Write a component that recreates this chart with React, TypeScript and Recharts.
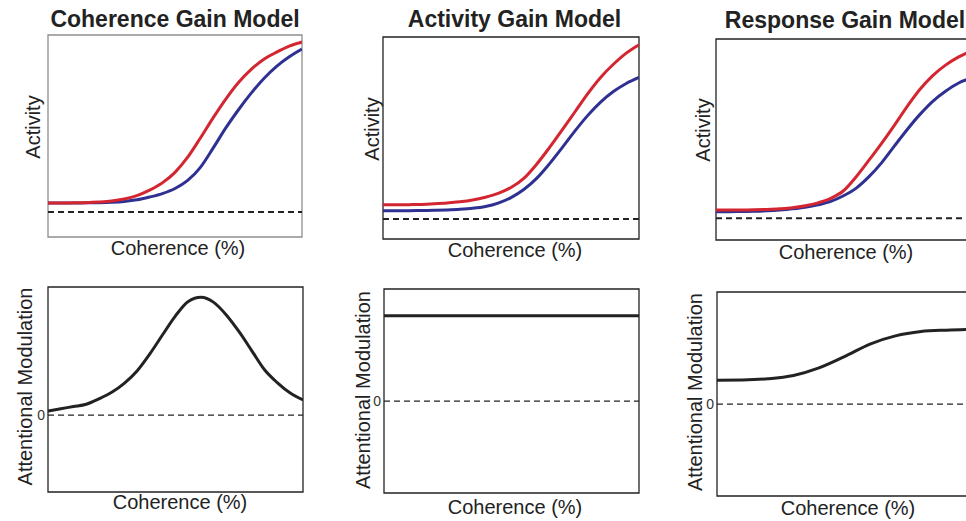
import React from 'react';
import { LineChart, Line, XAxis, YAxis, ReferenceLine, ReferenceArea } from 'recharts';

// x positions are % of the coherence range shown in each panel
const xGrid = [0, 5, 10, 15, 20, 25, 30, 35, 40, 45, 50, 55, 60, 65, 70, 75, 80, 85, 90, 95, 100];

// top row: activity, attended (red) vs unattended (blue)
const coherenceAttended = [0.168, 0.168, 0.169, 0.17, 0.173, 0.178, 0.188, 0.205, 0.232, 0.268, 0.32, 0.395, 0.49, 0.59, 0.683, 0.765, 0.83, 0.88, 0.915, 0.945, 0.965];
const coherenceUnattended = [0.168, 0.168, 0.168, 0.169, 0.17, 0.172, 0.176, 0.184, 0.198, 0.215, 0.24, 0.28, 0.345, 0.44, 0.54, 0.63, 0.712, 0.785, 0.845, 0.892, 0.93];
const activityAttended = [0.169, 0.169, 0.17, 0.171, 0.174, 0.178, 0.184, 0.193, 0.207, 0.226, 0.255, 0.3, 0.37, 0.452, 0.54, 0.63, 0.72, 0.8, 0.865, 0.92, 0.962];
const activityUnattended = [0.14, 0.14, 0.14, 0.141, 0.142, 0.144, 0.147, 0.152, 0.161, 0.178, 0.205, 0.245, 0.3, 0.372, 0.452, 0.535, 0.612, 0.678, 0.73, 0.77, 0.8];
const responseAttended = [0.149, 0.149, 0.149, 0.15, 0.152, 0.155, 0.16, 0.17, 0.185, 0.207, 0.245, 0.315, 0.397, 0.482, 0.572, 0.665, 0.75, 0.818, 0.87, 0.91, 0.94];
const responseUnattended = [0.141, 0.141, 0.142, 0.143, 0.145, 0.149, 0.155, 0.163, 0.175, 0.192, 0.22, 0.258, 0.315, 0.385, 0.468, 0.55, 0.625, 0.69, 0.74, 0.78, 0.805];
const topBaselines = [0.124, 0.099, 0.108];

// bottom row: attentional modulation
const coherenceMod = [0.032, 0.05, 0.067, 0.085, 0.127, 0.178, 0.25, 0.347, 0.48, 0.629, 0.775, 0.887, 0.92, 0.88, 0.78, 0.649, 0.5, 0.352, 0.252, 0.172, 0.118];
const xActivityMod = [0, 100];
const activityMod = [0.838, 0.838];
const xResponseMod = [0, 10, 20, 30, 40, 50, 60, 70, 80, 90, 100];
const responseMod = [0.236, 0.238, 0.25, 0.282, 0.356, 0.467, 0.59, 0.67, 0.712, 0.726, 0.733];

const titles = ['Coherence Gain Model', 'Activity Gain Model', 'Response Gain Model'];
const xLabel = 'Coherence (%)';
const topYLabel = 'Activity';
const bottomYLabel = 'Attentional Modulation';
const zeroTick = [0];

const RED = '#d42630';
const BLUE = '#2e3192';
const INK = '#222';
const FONT = '"Liberation Sans", Arial, Helvetica, sans-serif';

type Frame = { x: number; y: number; w: number; h: number };
type Series = { key: string; color: string };

const toRows = (xs: number[], cols: Record<string, number[]>) =>
  xs.map((x, i) => {
    const row: Record<string, number> = { x };
    Object.keys(cols).forEach((k) => (row[k] = cols[k][i]));
    return row;
  });

function Panel({
  frame,
  data,
  series,
  domain,
  refY,
  refWidth,
  frameColor,
  ticks,
}: {
  frame: Frame;
  data: Record<string, number>[];
  series: Series[];
  domain: [number, number];
  refY: number;
  refWidth: number;
  frameColor: string;
  ticks?: number[];
}) {
  return (
    <div style={{ position: 'absolute', left: frame.x - 20, top: frame.y - 1 }}>
      <LineChart width={frame.w + 21} height={frame.h + 2} data={data} margin={{ top: 1, right: 1, bottom: 1, left: 0 }}>
        <XAxis type="number" dataKey="x" domain={[0, 100]} hide allowDataOverflow />
        <YAxis
          type="number"
          domain={domain}
          width={20}
          axisLine={false}
          tickLine={false}
          tickSize={0}
          tickMargin={3}
          ticks={ticks ?? []}
          tick={ticks ? { fontSize: 14, fill: '#333', fontFamily: FONT } : false}
          allowDataOverflow
        />
        <ReferenceArea
          x1={0}
          x2={100}
          y1={domain[0]}
          y2={domain[1]}
          fill="none"
          fillOpacity={0}
          stroke={frameColor}
          strokeWidth={1.3}
          strokeOpacity={1}
          ifOverflow="visible"
        />
        <ReferenceLine y={refY} stroke={INK} strokeWidth={refWidth} strokeDasharray="6 4" />
        {series.map((s) => (
          <Line
            key={s.key}
            type="monotone"
            dataKey={s.key}
            stroke={s.color}
            strokeWidth={3}
            dot={false}
            activeDot={false}
            isAnimationActive={false}
          />
        ))}
      </LineChart>
    </div>
  );
}

const topFrames: Frame[] = [
  { x: 48, y: 35, w: 254, h: 202 },
  { x: 383, y: 37, w: 256, h: 202 },
  { x: 716, y: 39, w: 255, h: 201 },
];
const bottomFrames: Frame[] = [
  { x: 48, y: 287, w: 255, h: 205 },
  { x: 384, y: 289, w: 255, h: 204 },
  { x: 717, y: 292, w: 255, h: 204 },
];

const pairSeries: Series[] = [
  { key: 'unattended', color: BLUE },
  { key: 'attended', color: RED },
];
const modSeries: Series[] = [{ key: 'mod', color: INK }];

export default function App() {
  const topData = [
    toRows(xGrid, { attended: coherenceAttended, unattended: coherenceUnattended }),
    toRows(xGrid, { attended: activityAttended, unattended: activityUnattended }),
    toRows(xGrid, { attended: responseAttended, unattended: responseUnattended }),
  ];
  const bottomData = [
    toRows(xGrid, { mod: coherenceMod }),
    toRows(xActivityMod, { mod: activityMod }),
    toRows(xResponseMod, { mod: responseMod }),
  ];
  const bottomDomains: [number, number][] = [
    [-0.6, 1.0],
    [-0.9, 1.1],
    [-0.9, 1.1],
  ];

  const titlePos = [
    [175, 27],
    [514.5, 26.5],
    [845, 28],
  ];
  const xLabelPos = [
    [178, 254.5],
    [515, 257],
    [846, 258.5],
    [180, 508.5],
    [515, 513.5],
    [848, 515],
  ];
  const yLabelPos = [
    [39.5, 127],
    [378.5, 129],
    [710, 130],
    [31.5, 386.5],
    [370, 390],
    [701.5, 392],
  ];

  return (
    <div
      style={{
        position: 'absolute',
        left: 0,
        top: 0,
        width: 966,
        height: 521,
        overflow: 'hidden',
        background: '#fff',
        fontFamily: FONT,
      }}
    >
      {topFrames.map((f, i) => (
        <Panel
          key={`t${i}`}
          frame={f}
          data={topData[i]}
          series={pairSeries}
          domain={[0, 1]}
          refY={topBaselines[i]}
          refWidth={2}
          frameColor={i === 0 ? '#8e8e8e' : INK}
        />
      ))}
      {bottomFrames.map((f, i) => (
        <Panel
          key={`b${i}`}
          frame={f}
          data={bottomData[i]}
          series={modSeries}
          domain={bottomDomains[i]}
          refY={0}
          refWidth={1.3}
          frameColor={INK}
          ticks={zeroTick}
        />
      ))}
      <svg width={966} height={521} style={{ position: 'absolute', left: 0, top: 0, pointerEvents: 'none' }}>
        <g fontFamily={FONT} fill={INK}>
          {titles.map((t, i) => (
            <text key={t} x={titlePos[i][0]} y={titlePos[i][1]} textAnchor="middle" fontSize={23} fontWeight="bold">
              {t}
            </text>
          ))}
          {xLabelPos.map(([x, y], i) => (
            <text key={`xl${i}`} x={x} y={y} textAnchor="middle" fontSize={20}>
              {xLabel}
            </text>
          ))}
          {yLabelPos.map(([x, y], i) => (
            <text key={`yl${i}`} x={x} y={y} textAnchor="middle" fontSize={20} transform={`rotate(-90, ${x}, ${y})`}>
              {i < 3 ? topYLabel : bottomYLabel}
            </text>
          ))}
        </g>
      </svg>
    </div>
  );
}
